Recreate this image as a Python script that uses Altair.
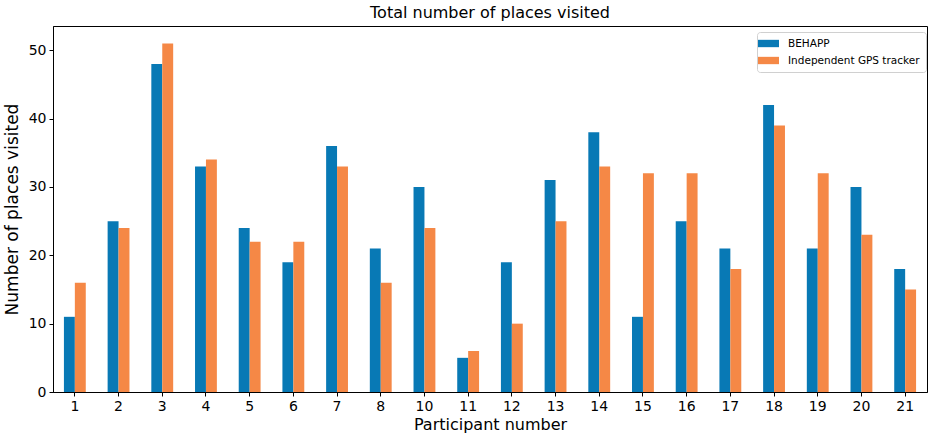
import altair as alt
import pandas as pd

participants = ["1", "2", "3", "4", "5", "6", "7", "8", "10", "11",
                "12", "13", "14", "15", "16", "17", "18", "19", "20", "21"]
behapp = [11, 25, 48, 33, 24, 19, 36, 21, 30, 5,
          19, 31, 38, 11, 25, 21, 42, 21, 30, 18]
gps_tracker = [16, 24, 51, 34, 22, 22, 33, 16, 24, 6,
               10, 25, 33, 32, 32, 18, 39, 32, 23, 15]
series_names = ["BEHAPP", "Independent GPS tracker"]
series_colors = ["#0879b5", "#f58846"]

rows = []
for p, a, b in zip(participants, behapp, gps_tracker):
    rows.append({"participant": p, "source": series_names[0], "places": a})
    rows.append({"participant": p, "source": series_names[1], "places": b})
df = pd.DataFrame(rows)

FONT = "DejaVu Sans"

bars = alt.Chart(df).mark_bar().encode(
    x=alt.X(
        "participant:N",
        sort=participants,
        title="Participant number",
        scale=alt.Scale(paddingInner=0.5, paddingOuter=0.25),
        axis=alt.Axis(labelAngle=0, labelFontSize=14, titleFontSize=16,
                      tickSize=4, labelPadding=3, titlePadding=3,
                      domainColor="black", tickColor="black",
                      labelColor="black", titleColor="black",
                      titleFontWeight="normal", labelFont=FONT, titleFont=FONT),
    ),
    xOffset=alt.XOffset("source:N", sort=series_names),
    y=alt.Y(
        "places:Q",
        title="Number of places visited",
        scale=alt.Scale(domain=[0, 53.55], nice=False),
        axis=alt.Axis(values=[0, 10, 20, 30, 40, 50], grid=False,
                      labelFontSize=14, titleFontSize=17, tickSize=4,
                      labelPadding=3, titlePadding=7,
                      domainColor="black", tickColor="black",
                      labelColor="black", titleColor="black",
                      titleFontWeight="normal", labelFont=FONT, titleFont=FONT),
    ),
    color=alt.Color(
        "source:N",
        sort=series_names,
        scale=alt.Scale(domain=series_names, range=series_colors),
        legend=alt.Legend(
            title=None, orient="none", legendX=704, legendY=6,
            symbolType="M-2,-0.7L2,-0.7L2,0.7L-2,0.7Z",
            symbolSize=110, symbolStrokeWidth=0,
            labelFontSize=10.5, labelFont=FONT, labelColor="black",
            labelOffset=14, rowPadding=6, padding=6,
            strokeColor="#d0d0d0", fillColor="white", cornerRadius=3,
        ),
    ),
).properties(
    width=874,
    height=366,
    title=alt.TitleParams("Total number of places visited", fontSize=16,
                          font=FONT, fontWeight="normal", color="black",
                          anchor="middle", offset=5),
    autosize=alt.AutoSizeParams(type="none"),
    padding={"left": 53, "top": 26, "right": 4, "bottom": 49},
).configure_view(stroke="black", strokeWidth=1)

chart = bars
chart.save("out.html", embed_options={"renderer": "svg", "actions": False})
